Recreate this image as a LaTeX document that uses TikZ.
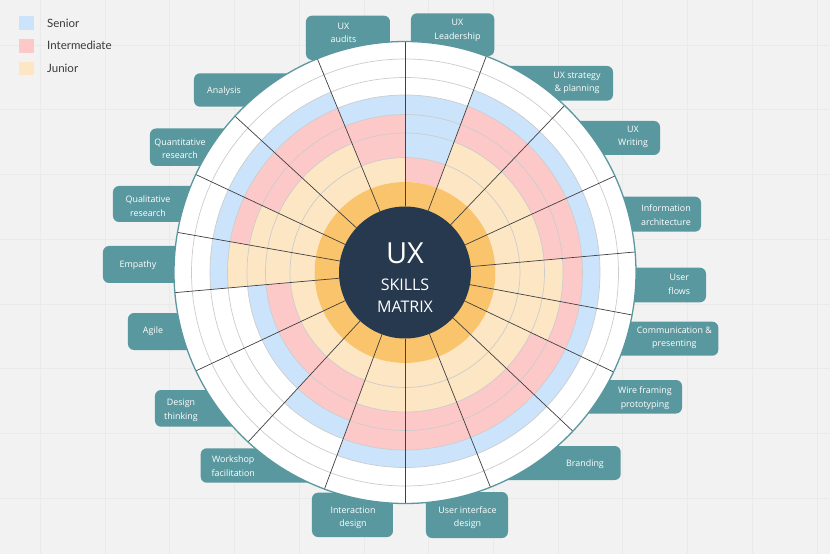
\documentclass[tikz,border=0pt]{standalone}
\usepackage{fontspec}
\setmainfont{Open Sans}
\newfontfamily\legendfont{Lato}

\definecolor{senior}{HTML}{CBE4FB}
\definecolor{intermediate}{HTML}{FDC9C8}
\definecolor{junior}{HTML}{FDE6C4}
\definecolor{juniorbase}{HTML}{F9C46B}
\definecolor{hubnavy}{HTML}{27394E}
\definecolor{skillteal}{HTML}{5A989F}
\definecolor{paper}{HTML}{F2F2F2}
\definecolor{paperline}{HTML}{EAEAEA}
\definecolor{legendtext}{HTML}{3A3A3A}

% annular sector: colour, start angle, end angle, inner radius, outer radius
\newcommand{\skillband}[5]{%
  \fill[#1] (#2:#4) arc[start angle=#2, end angle=#3, radius=#4]
    -- (#3:#5) arc[start angle=#3, end angle=#2, radius=#5] -- cycle;}

\def\ringr{{66,90.5,115,139.5,158,177.5,195,213.5,231}}

\tikzset{
  skillbox/.style={fill=skillteal, rounded corners=6pt},
  skilltext/.style={text=white, font=\fontsize{8.9}{13.4}\selectfont, align=center, inner sep=0pt},
  legendlabel/.style={text=legendtext, font=\legendfont\fontsize{11.5}{13}\selectfont, anchor=west, inner sep=0pt},
  hubtext/.style={text=white, anchor=base, inner sep=0pt},
}

\begin{document}
\begin{tikzpicture}[x=1pt,y=1pt]
  \useasboundingbox (-405,-281.5) rectangle (425,272.5);
  \fill[paper] (-405,-281.5) rectangle (425,272.5);

  \begin{scope}[shift={(-405,272.5)}, yscale=-1]
    % board grid
    \foreach \k in {-1,...,11}
      \draw[paperline, line width=0.4pt] ({105+64.7*\k},0) -- ({105+64.7*\k},554);
    \foreach \k in {-1,...,8}
      \draw[paperline, line width=0.4pt] (0,{45+64.7*\k}) -- (830,{45+64.7*\k});

    % Legend
    \fill[senior] (19.5,16) rectangle (34,30);
    \fill[intermediate] (19.5,39) rectangle (34,52.7);
    \fill[junior] (19.5,61.7) rectangle (34,75.3);
    \node[legendlabel] (lgsenior) at (47,23) {Senior};
    \node[legendlabel] (lgintermediate) at (47,45.8) {Intermediate};
    \node[legendlabel] (lgjunior) at (47,68.5) {Junior};

    % Skill boxes (the wheel hides their inner ends)
    \foreach \bx/\by/\bxx/\byy in {306/15.7/390/60, 411/13.3/494.3/56, 500/66/613/100.7,
        560/121/660/155, 600/196.7/701/231.7, 600/267.7/706/302.3, 600/321.7/718.3/355.7,
        560/380/682/413.5, 490/446/620.7/480, 426/492/508/538, 312/492.7/393/537,
        200.7/448.3/340/482.7, 155/390/260/426.7, 128/313/220/350, 103/246/200/283,
        113/186/210/222, 150/128.5/240/166, 194/73.3/300/106.7}
      \fill[skillbox] (\bx,\by) rectangle (\bxx,\byy);

    % Skill names
    \node[skilltext] (audits) at (343.5,33) {UX\\audits};
    \node[skilltext] (leadership) at (457.5,30.3) {UX\\Leadership};
    \node[skilltext] (strategy) at (577,83) {UX strategy\\\& planning};
    \node[skilltext] (writing) at (633,137) {UX\\Writing};
    \node[skilltext] (infoarch) at (666,215) {Information\\architecture};
    \node[skilltext] (userflows) at (679.3,284.5) {User\\flows};
    \node[skilltext] (communication) at (674.3,338) {Communication \&\\presenting};
    \node[skilltext] (wireframing) at (645,398) {Wire framing\\prototyping};
    \node[skilltext] (branding) at (585,464) {Branding};
    \node[skilltext] (uidesign) at (467.5,517.5) {User interface\\design};
    \node[skilltext] (interaction) at (353,518) {Interaction\\design};
    \node[skilltext] (workshop) at (233.3,466.3) {Workshop\\facilitation};
    \node[skilltext] (designthinking) at (181,410.3) {Design\\thinking};
    \node[skilltext] (agile) at (153,331) {Agile};
    \node[skilltext] (empathy) at (138,265) {Empathy};
    \node[skilltext] (qualitative) at (148,206) {Qualitative\\research};
    \node[skilltext] (quantitative) at (180,148.5) {Quantitative\\research};
    \node[skilltext] (analysis) at (224,91) {Analysis};
  \end{scope}

  % Wheel: rings of junior / intermediate / senior per skill
  \fill[white] (0,0) circle (231);
  \foreach \a/\b/\nj/\ni/\ns in {90/112.3/1/2/1, 69.4/90/0/1/3, 46.3/69.4/2/2/1,
      24.7/46.3/2/2/1, 5.1/24.7/2/2/1, -10.6/5.1/3/1/1, -25.5/-10.6/3/1/1,
      -43.4/-25.5/2/2/1, -68.3/-43.4/2/2/1, -90/-68.3/2/2/1, -110.4/-90/2/2/1,
      -132.8/-110.4/1/2/1, -154.8/-132.8/1/1/1, -175/-154.8/1/1/1, 170/185/4/0/1,
      154.9/170/3/1/1, 137.4/154.9/2/2/1, 112.3/137.4/2/2/1}{
    \pgfmathtruncatemacro\kj{1+\nj}
    \pgfmathtruncatemacro\ki{\kj+\ni}
    \pgfmathtruncatemacro\ks{\ki+\ns}
    \pgfmathsetmacro\rj{\ringr[\kj]}
    \pgfmathsetmacro\ri{\ringr[\ki]}
    \pgfmathsetmacro\rs{\ringr[\ks]}
    \skillband{junior}{\a}{\b}{90.5}{\rj}
    \skillband{intermediate}{\a}{\b}{\rj}{\ri}
    \skillband{senior}{\a}{\b}{\ri}{\rs}
  }
  \fill[juniorbase] (0,0) circle (90.5);
  \foreach \r in {115,139.5,158,177.5,195,213.5}
    \draw[gray!40, line width=0.7pt] (0,0) circle (\r);
  \foreach \a in {90,69.4,46.3,24.7,5.1,-10.6,-25.5,-43.4,-68.3,-90,-110.4,-132.8,
      -154.8,-175,170,154.9,137.4,112.3}
    \draw[black!75, line width=0.7pt] (\a:66) -- (\a:231);
  \draw[skillteal, line width=1.3pt] (0,0) circle (231);

  % Hub
  \node[circle, fill=hubnavy, minimum size=132pt, inner sep=0pt] (hub) at (0,0) {};
  \node[hubtext, font=\fontsize{29}{30}\selectfont] (ux) at (0,9.2) {UX};
  \node[hubtext, font=\fontsize{16}{17}\selectfont] (skills) at (0,-18.2) {SKILLS};
  \node[hubtext, font=\fontsize{16}{17}\selectfont] (matrix) at (0,-39.8) {MATRIX};
\end{tikzpicture}
\end{document}
